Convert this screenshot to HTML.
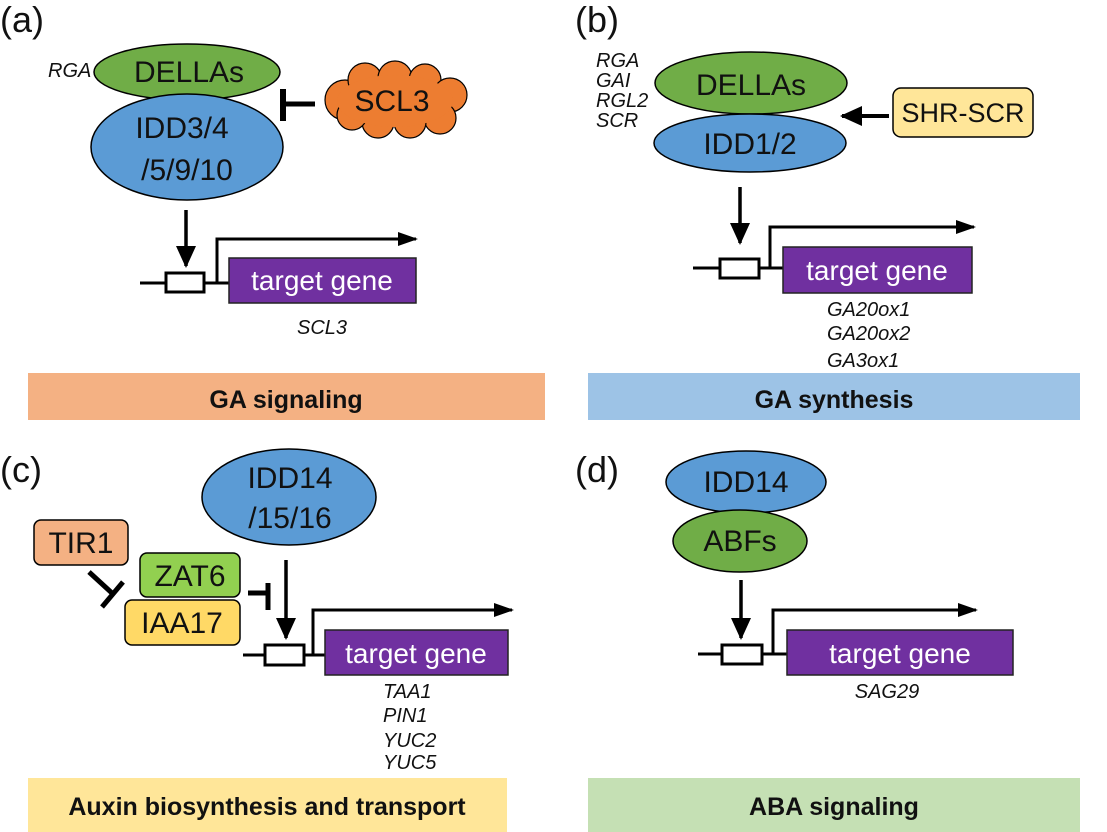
<!DOCTYPE html>
<html><head><meta charset="utf-8"><style>
html,body{margin:0;padding:0;background:#fff;}
svg{display:block;}
text{font-family:"Liberation Sans",sans-serif;}
.l{font-size:30px;fill:#111;}
.i{font-size:20px;font-style:italic;fill:#111;}
.g{font-size:28px;fill:#fff;}
.b{font-size:25px;font-weight:bold;fill:#111;}
.p{font-size:36px;fill:#111;}
</style></head><body>
<svg width="1107" height="832" viewBox="0 0 1107 832" xmlns="http://www.w3.org/2000/svg">
<defs>
<marker id="ah" markerWidth="22" markerHeight="22" refX="20" refY="11" orient="auto" markerUnits="userSpaceOnUse" viewBox="0 0 22 22">
<path d="M0,1 L22,11 L0,21 z" fill="#000"/></marker>
<marker id="as" markerWidth="20" markerHeight="14" refX="18" refY="7" orient="auto" markerUnits="userSpaceOnUse" viewBox="0 0 20 14">
<path d="M0,0 L20,7 L0,14 z" fill="#000"/></marker>
</defs>
<rect x="28" y="373" width="517" height="47" fill="#f4b183"/>
<text class="b" x="286" y="408" text-anchor="middle">GA signaling</text>
<rect x="588" y="373" width="492" height="47" fill="#9dc3e6"/>
<text class="b" x="834" y="408" text-anchor="middle">GA synthesis</text>
<rect x="28" y="778" width="479" height="54" fill="#ffe699"/>
<text class="b" x="267" y="815" text-anchor="middle">Auxin biosynthesis and transport</text>
<rect x="588" y="778" width="492" height="54" fill="#c5e0b4"/>
<text class="b" x="834" y="815" text-anchor="middle">ABA signaling</text>

<text class="p" x="0" y="32">(a)</text>
<text class="p" x="575" y="32">(b)</text>
<text class="p" x="0" y="482">(c)</text>
<text class="p" x="575" y="482">(d)</text>

<ellipse cx="187" cy="72" rx="93" ry="28" fill="#70ad47" stroke="#000" stroke-width="1.5"/>
<ellipse cx="187" cy="147" rx="96" ry="53" fill="#5b9bd5" stroke="#000" stroke-width="1.5"/>
<text class="l" x="189" y="82" text-anchor="middle">DELLAs</text>
<text class="l" x="182" y="138" text-anchor="middle">IDD3/4</text>
<text class="l" x="187" y="180" text-anchor="middle">/5/9/10</text>
<text class="i" x="48" y="77">RGA</text>
<line x1="283" y1="104" x2="315" y2="104" stroke="#000" stroke-width="5"/>
<line x1="283" y1="89" x2="283" y2="121" stroke="#000" stroke-width="6"/>
<g fill="#ed7d31" stroke="#000" stroke-width="1.2">
<circle cx="345" cy="100" r="20"/><circle cx="365" cy="80" r="17"/><circle cx="395" cy="78" r="17"/>
<circle cx="425" cy="80" r="16"/><circle cx="450" cy="95" r="17"/><circle cx="440" cy="118" r="16"/>
<circle cx="410" cy="122" r="16"/><circle cx="378" cy="122" r="16"/><circle cx="352" cy="115" r="15"/>
</g>
<ellipse cx="395" cy="101" rx="58" ry="26" fill="#ed7d31"/>
<text class="l" x="392" y="111" text-anchor="middle">SCL3</text>
<line x1="186" y1="210" x2="186" y2="266" stroke="#000" stroke-width="3.5" marker-end="url(#ah)"/>
<line x1="140" y1="283" x2="229" y2="283" stroke="#000" stroke-width="3"/>
<rect x="166" y="273" width="38" height="19" fill="#fff" stroke="#000" stroke-width="3"/>
<polyline points="217,283 217,239 416,239" fill="none" stroke="#000" stroke-width="3" marker-end="url(#as)"/>
<rect x="229" y="258" width="187" height="45" fill="#7030a0" stroke="#222" stroke-width="1.5"/>
<text class="g" x="322" y="290" text-anchor="middle">target gene</text>
<text class="i" x="322" y="334" text-anchor="middle">SCL3</text>

<ellipse cx="751" cy="83" rx="96" ry="31" fill="#70ad47" stroke="#000" stroke-width="1.5"/>
<ellipse cx="750" cy="143" rx="96" ry="29" fill="#5b9bd5" stroke="#000" stroke-width="1.5"/>
<text class="l" x="751" y="95" text-anchor="middle">DELLAs</text>
<text class="l" x="750" y="154" text-anchor="middle">IDD1/2</text>
<text class="i" x="596" y="67">RGA</text>
<text class="i" x="596" y="87">GAI</text>
<text class="i" x="596" y="107">RGL2</text>
<text class="i" x="596" y="127">SCR</text>
<rect x="893" y="88" width="140" height="49" rx="8" fill="#ffe699" stroke="#000" stroke-width="1.5"/>
<text class="l" x="963" y="122" text-anchor="middle" style="font-size:27px">SHR-SCR</text>
<line x1="889" y1="116" x2="842" y2="116" stroke="#000" stroke-width="4" marker-end="url(#ah)"/>
<line x1="740" y1="187" x2="740" y2="243" stroke="#000" stroke-width="3.5" marker-end="url(#ah)"/>
<line x1="693" y1="268" x2="783" y2="268" stroke="#000" stroke-width="3"/>
<rect x="720" y="259" width="39" height="19" fill="#fff" stroke="#000" stroke-width="3"/>
<polyline points="770,268 770,227 974,227" fill="none" stroke="#000" stroke-width="3" marker-end="url(#as)"/>
<rect x="783" y="247" width="189" height="46" fill="#7030a0" stroke="#222" stroke-width="1.5"/>
<text class="g" x="877" y="280" text-anchor="middle">target gene</text>
<text class="i" x="827" y="316">GA20ox1</text>
<text class="i" x="827" y="340">GA20ox2</text>
<text class="i" x="827" y="367">GA3ox1</text>

<ellipse cx="289" cy="497" rx="87" ry="48" fill="#5b9bd5" stroke="#000" stroke-width="1.5"/>
<text class="l" x="290" y="488" text-anchor="middle">IDD14</text>
<text class="l" x="290" y="528" text-anchor="middle">/15/16</text>
<rect x="34" y="520" width="94" height="45" rx="7" fill="#f4b183" stroke="#000" stroke-width="1.5"/>
<text class="l" x="81" y="553" text-anchor="middle">TIR1</text>
<rect x="125" y="600" width="115" height="45" rx="7" fill="#ffd966" stroke="#000" stroke-width="1.5"/>
<text class="l" x="182" y="633" text-anchor="middle">IAA17</text>
<rect x="140" y="553" width="100" height="44" rx="7" fill="#92d050" stroke="#000" stroke-width="1.5"/>
<text class="l" x="190" y="586" text-anchor="middle">ZAT6</text>
<line x1="89" y1="572" x2="113" y2="594" stroke="#000" stroke-width="5"/>
<line x1="102" y1="607" x2="123" y2="582" stroke="#000" stroke-width="5"/>
<line x1="248" y1="593" x2="268" y2="593" stroke="#000" stroke-width="5"/>
<line x1="268" y1="583" x2="268" y2="610" stroke="#000" stroke-width="5"/>
<line x1="286" y1="560" x2="286" y2="638" stroke="#000" stroke-width="3.5" marker-end="url(#ah)"/>
<line x1="243" y1="655" x2="325" y2="655" stroke="#000" stroke-width="3"/>
<rect x="265" y="645" width="39" height="20" fill="#fff" stroke="#000" stroke-width="3"/>
<polyline points="313,655 313,610 512,610" fill="none" stroke="#000" stroke-width="3" marker-end="url(#as)"/>
<rect x="325" y="630" width="183" height="45" fill="#7030a0" stroke="#222" stroke-width="1.5"/>
<text class="g" x="416" y="663" text-anchor="middle">target gene</text>
<text class="i" x="383" y="698">TAA1</text>
<text class="i" x="383" y="722">PIN1</text>
<text class="i" x="383" y="747">YUC2</text>
<text class="i" x="383" y="769">YUC5</text>

<ellipse cx="746" cy="482" rx="80" ry="31" fill="#5b9bd5" stroke="#000" stroke-width="1.5"/>
<ellipse cx="740" cy="541" rx="67" ry="31" fill="#70ad47" stroke="#000" stroke-width="1.5"/>
<text class="l" x="746" y="492" text-anchor="middle">IDD14</text>
<text class="l" x="740" y="551" text-anchor="middle">ABFs</text>
<line x1="741" y1="580" x2="741" y2="638" stroke="#000" stroke-width="3.5" marker-end="url(#ah)"/>
<line x1="698" y1="654" x2="787" y2="654" stroke="#000" stroke-width="3"/>
<rect x="722" y="645" width="40" height="19" fill="#fff" stroke="#000" stroke-width="3"/>
<polyline points="773,654 773,610 976,610" fill="none" stroke="#000" stroke-width="3" marker-end="url(#as)"/>
<rect x="787" y="630" width="226" height="45" fill="#7030a0" stroke="#222" stroke-width="1.5"/>
<text class="g" x="900" y="663" text-anchor="middle">target gene</text>
<text class="i" x="887" y="698" text-anchor="middle">SAG29</text>
</svg>
</body></html>
